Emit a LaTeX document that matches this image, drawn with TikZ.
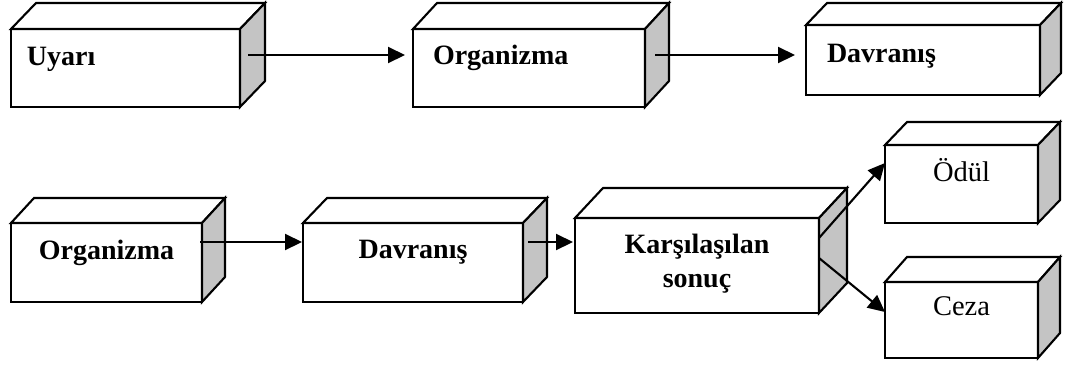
\documentclass[tikz,border=0pt]{standalone}
\usepackage{fontspec}
\setmainfont{Liberation Serif}
\usetikzlibrary{arrows.meta}

% Front face of a box; top and side faces are added by \cubefaces
\tikzset{
  frontbox/.style={draw, fill=white, line width=2.1pt, line join=miter,
    inner ysep=0pt, outer sep=0pt, anchor=north west,
    font=\bfseries\fontsize{28}{34}\selectfont},
  plainbox/.style={frontbox, font=\fontsize{28.5}{34}\selectfont},
  topface/.style={draw, fill=white, line width=2.1pt, line join=miter},
  sideface/.style={draw, fill=black!23, line width=2.1pt, line join=miter},
  flow/.style={line width=2.1pt, -{Triangle[length=17pt,width=16pt]}}
}

% #1 node name, (#2,#3) depth offset of the back face
\newcommand\cubefaces[3]{%
  \filldraw[topface] (#1.north west) -- ++(#2,#3)
    -- ([shift={(#2,#3)}]#1.north east) -- (#1.north east) -- cycle;
  \filldraw[sideface] (#1.north east) -- ([shift={(#2,#3)}]#1.north east)
    -- ([shift={(#2,#3)}]#1.south east) -- (#1.south east) -- cycle;
}

\begin{document}
\begin{tikzpicture}[x=1pt, y=-1pt]
  \useasboundingbox[fill=white] (0,0) rectangle (1068,365);

  % upper chain
  \node[frontbox, minimum width=229pt, inner xsep=16pt, text width=197pt,
        align=left, text height=36pt, text depth=42pt] (A) at (11,29) {Uyarı};
  \node[frontbox, minimum width=232pt, inner xsep=20pt, text width=192pt,
        align=left, text height=35pt, text depth=43pt] (B) at (413,29) {Organizma};
  \node[frontbox, minimum width=234pt, inner xsep=21pt, text width=192pt,
        align=left, text height=37pt, text depth=33pt] (C) at (806,25) {Davranış};

  % lower chain
  \node[frontbox, minimum width=191pt, inner xsep=4pt, text width=183pt,
        align=center, text height=36pt, text depth=43pt] (D) at (11,223) {Organizma};
  \node[frontbox, minimum width=220pt, inner xsep=4pt, text width=212pt,
        align=center, text height=35pt, text depth=44pt] (E) at (303,223) {Davranış};
  \node[frontbox, minimum width=244pt, inner xsep=4pt, text width=236pt,
        align=center, text height=35pt, text depth=60pt] (F) at (575,218)
        {Karşılaşılan\\sonuç};
  \node[plainbox, minimum width=153pt, inner xsep=4pt, text width=145pt,
        align=center, text height=36pt, text depth=42pt] (G) at (885,145) {Ödül};
  \node[plainbox, minimum width=153pt, inner xsep=4pt, text width=145pt,
        align=center, text height=33pt, text depth=43pt] (H) at (885,282) {Ceza};

  \cubefaces{A}{25}{-26}
  \cubefaces{B}{24}{-26}
  \cubefaces{C}{21}{-22}
  \cubefaces{D}{23}{-25}
  \cubefaces{E}{24}{-25}
  \cubefaces{F}{28}{-30}
  \cubefaces{G}{22}{-23}
  \cubefaces{H}{22}{-25}

  % connectors
  \draw[flow] ([shift={(8,26)}]A.north east) -- ([shift={(-8,26)}]B.north west);
  \draw[flow] ([shift={(10,26)}]B.north east) -- ([shift={(-11,30)}]C.north west);
  \draw[flow] ([shift={(-2,19)}]D.north east) -- ([shift={(-1,19)}]E.north west);
  \draw[flow] ([shift={(5,19)}]E.north east) -- ([shift={(-2,24)}]F.north west);
  \draw[flow] ([shift={(0,20)}]F.north east) -- ([shift={(0,18)}]G.north west);
  \draw[flow] ([shift={(0,40)}]F.north east) -- ([shift={(0,30)}]H.north west);
\end{tikzpicture}
\end{document}
